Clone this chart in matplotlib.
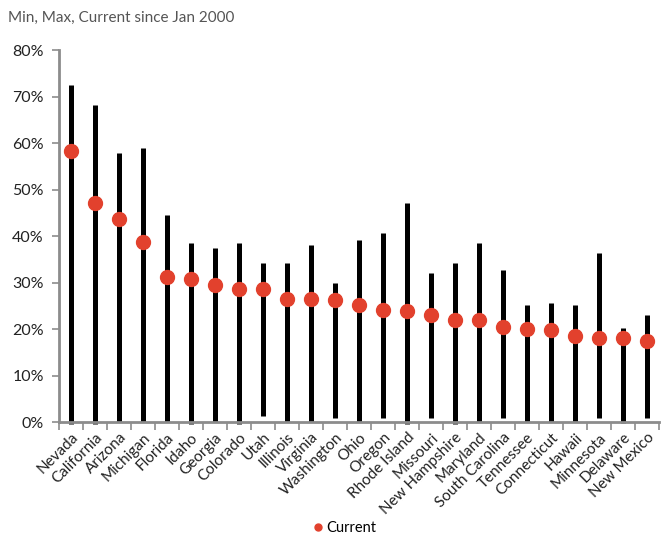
import numpy as np
import matplotlib.pyplot as plt
from matplotlib.ticker import FuncFormatter, FixedLocator

states = ["Nevada", "California", "Arizona", "Michigan", "Florida", "Idaho",
          "Georgia", "Colorado", "Utah", "Illinois", "Virginia", "Washington",
          "Ohio", "Oregon", "Rhode Island", "Missouri", "New Hampshire",
          "Maryland", "South Carolina", "Tennessee", "Connecticut", "Hawaii",
          "Minnesota", "Delaware", "New Mexico"]
max_vals = [72.5, 68.2, 57.8, 58.9, 44.5, 38.5, 37.4, 38.5, 34.2, 34.2, 38.1,
            29.9, 39.1, 40.6, 47.1, 32.0, 34.2, 38.5, 32.7, 25.2, 25.6, 25.2,
            36.3, 20.2, 23.0]
min_vals = [-0.5, -0.5, 0.0, 0.0, 0.0, -0.5, 0.0, -0.5, 1.3, 0.0, 0.0,
            0.9, 0.0, 0.9, -0.5, 0.9, -0.5, 0.0, 0.9, 0.0, 0.0, 0.0,
            0.9, -0.3, 0.9]
current = [58.3, 47.1, 43.7, 38.7, 31.2, 30.8, 29.5, 28.6, 28.6, 26.5, 26.4,
           26.2, 25.2, 24.1, 23.9, 23.0, 21.9, 21.9, 20.4, 19.9, 19.8, 18.5,
           18.0, 18.0, 17.5]

red = "#E2412D"
grey = "#8C8C8C"
font = "Lato"

fig = plt.figure(figsize=(6.67, 5.38), dpi=100)
ax = fig.add_axes([0.0885, 0.2156, 0.8995, 0.6914])

x = np.arange(len(states))
ax.vlines(x, min_vals, max_vals, color="black", linewidth=3.6, clip_on=False, zorder=2)
ax.plot(x, current, "o", color=red, markersize=10, linestyle="none",
        label="Current", zorder=3, clip_on=False)

ax.set_xlim(-0.5, len(states) - 0.5)
ax.set_ylim(0, 80)
ax.set_yticks(np.arange(0, 81, 10))
ax.yaxis.set_major_formatter(FuncFormatter(lambda v, p: f"{v:.0f}%"))

ax.set_xticks(x)
ax.set_xticklabels(states, rotation=45, ha="right", rotation_mode="anchor",
                   fontsize=11, family=font, color="#222222")
ax.xaxis.set_minor_locator(FixedLocator(np.arange(-0.5, len(states), 1)))
ax.tick_params(axis="x", which="major", length=0, pad=6)
ax.tick_params(axis="x", which="minor", length=6, color=grey, width=1.2)
ax.tick_params(axis="y", length=5, color=grey, width=1.2, labelsize=11.5, pad=6,
               labelcolor="#222222")
for lab in ax.get_yticklabels():
    lab.set_family(font)

for s in ["top", "right"]:
    ax.spines[s].set_visible(False)
for s in ["left", "bottom"]:
    ax.spines[s].set_color(grey)
    ax.spines[s].set_linewidth(2)

fig.text(0.012, 0.967, "Min, Max, Current since Jan 2000", fontsize=11,
         color="#555555", family=font, va="center")

fig.legend(*ax.get_legend_handles_labels(), loc="center",
           bbox_to_anchor=(0.515, 0.018), frameon=False,
           markerscale=0.5, handletextpad=0.1, handlelength=1,
           prop={"family": font, "size": 10.5})

fig.savefig("out.png", dpi=100)
